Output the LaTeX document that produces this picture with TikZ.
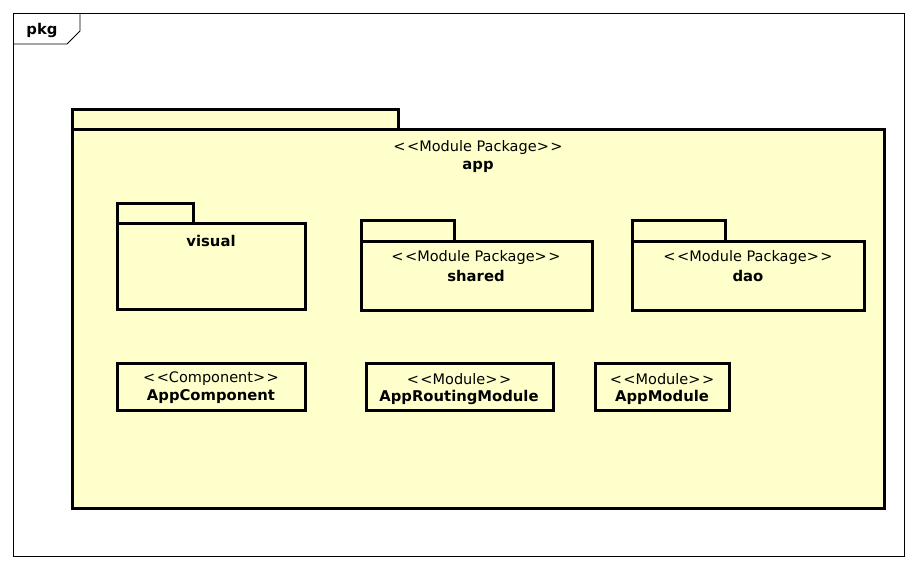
\documentclass[tikz,border=0pt]{standalone}
\usepackage{fontspec}
\setmainfont{DejaVu Sans}
\definecolor{pkgfill}{HTML}{FFFFCC}
\newcommand{\stL}{{<}\kern1.5pt{<}}
\newcommand{\stR}{{>}\kern1.5pt{>}}
\begin{document}
\begin{tikzpicture}[x=1pt,y=-1pt,
  thickline/.style={draw=black,line width=3pt,fill=pkgfill},
  lbl/.style={inner sep=0pt,font=\fontsize{14.5}{16}\selectfont},
  blbl/.style={inner sep=0pt,font=\fontsize{14.8}{16}\selectfont\bfseries}]
\useasboundingbox (0,0) rectangle (917,569);
% outer frame
\draw[line width=0.8pt] (13,13) rectangle (904,556);
\draw[line width=0.8pt] (13,44) -- (67,44) -- (80,31) -- (80,13);
\node[blbl] (pkg) at (42,30) {pkg};
% app package
\draw[thickline] (72,110) rectangle (398,130);
\draw[thickline] (72,130) rectangle (884,508);
\node[lbl] (appst) at (478,148) {\stL Module Package\stR};
\node[blbl] (app) at (478,167) {app};
% visual
\draw[thickline] (117,204) rectangle (193,224);
\draw[thickline] (117,224) rectangle (305,309);
\node[blbl] (visual) at (211,241) {visual};
% shared
\draw[thickline] (361,221) rectangle (454,241);
\draw[thickline] (361,241) rectangle (592,310);
\node[lbl] (sharedst) at (476,257) {\stL Module Package\stR};
\node[blbl] (shared) at (476,276) {shared};
% dao
\draw[thickline] (632,221) rectangle (725,241);
\draw[thickline] (632,241) rectangle (864,310);
\node[lbl] (daost) at (748,257) {\stL Module Package\stR};
\node[blbl] (dao) at (748,276) {dao};
% components
\draw[thickline] (117,363) rectangle (305,410);
\node[lbl] (acst) at (211,379) {\stL Component\stR};
\node[blbl] (ac) at (211,397) {AppComponent};
\draw[thickline] (366,363) rectangle (553,410);
\node[lbl] (arst) at (459,379) {\stL Module\stR};
\node[blbl] (ar) at (459,397) {AppRoutingModule};
\draw[thickline] (595,363) rectangle (729,410);
\node[lbl] (amst) at (662,379) {\stL Module\stR};
\node[blbl] (am) at (662,397) {AppModule};
\end{tikzpicture}
\end{document}
